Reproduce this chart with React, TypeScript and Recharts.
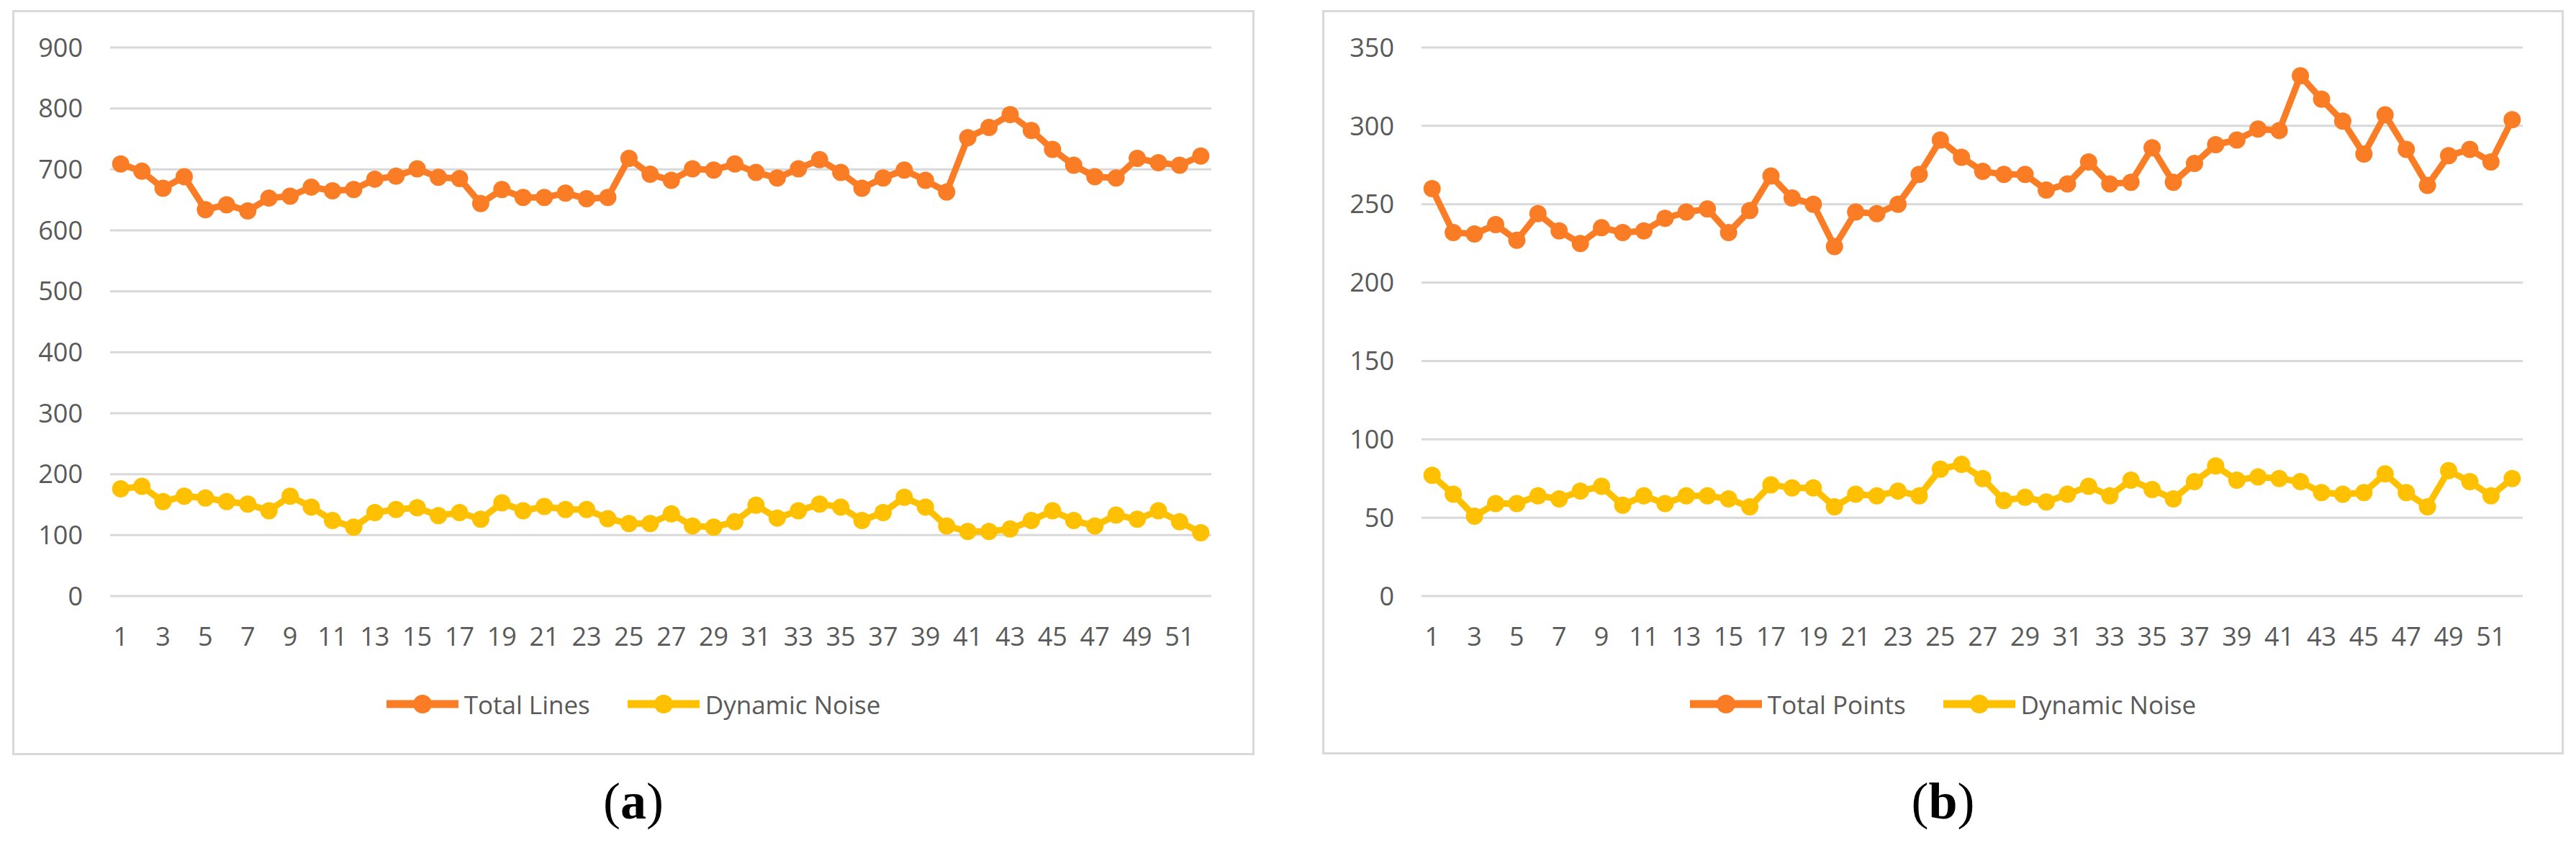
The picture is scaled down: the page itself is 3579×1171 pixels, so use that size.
// Two Excel-style weekly line charts side by side: (a) lines, (b) points.
// Frame + plot box sizes (3579x1171).

import { CartesianGrid, Legend, Line, LineChart, XAxis, YAxis } from 'recharts'

const weeks = Array.from({ length: 52 }, (_, i) => String(i + 1))

const totalLines = [
  709, 697, 669, 688, 634, 642, 632, 653, 656, 671, 665, 667, 684, 689, 701, 687, 685, 644, 667, 654,
  654, 661, 652, 654, 718, 692, 682, 701, 699, 709, 695, 686, 701, 716, 695, 669, 686, 699, 682, 663,
  752, 769, 790, 764, 733, 707, 688, 686, 718, 711, 707, 722,
]
const noiseLines = [
  176, 180, 155, 164, 161, 155, 151, 140, 164, 146, 124, 113, 137, 142, 145, 132, 137, 126, 153, 140,
  147, 142, 142, 127, 119, 119, 135, 115, 113, 122, 149, 128, 140, 151, 146, 124, 137, 162, 146, 115,
  106, 106, 110, 124, 140, 124, 115, 133, 126, 140, 122, 104,
]
const totalPoints = [
  260, 232, 231, 237, 227, 244, 233, 225, 235, 232, 233, 241, 245, 247, 232, 246, 268, 254, 250, 223,
  245, 244, 250, 269, 291, 280, 271, 269, 269, 259, 263, 277, 263, 264, 286, 264, 276, 288, 291, 298,
  297, 332, 317, 303, 282, 307, 285, 262, 281, 285, 277, 304,
]
const noisePoints = [
  77, 65, 51, 59, 59, 64, 62, 67, 70, 58, 64, 59, 64, 64, 62, 57, 71, 69, 69, 57,
  65, 64, 67, 64, 81, 84, 75, 61, 63, 60, 65, 70, 64, 74, 68, 62, 73, 83, 74, 76,
  75, 73, 66, 65, 66, 78, 66, 57, 80, 73, 64, 75,
]

const linesTicks = [0, 100, 200, 300, 400, 500, 600, 700, 800, 900]
const pointsTicks = [0, 50, 100, 150, 200, 250, 300, 350]

// legend keeps series order (recharts sorts by name otherwise)
const seriesOrder = ['total', 'noise']

const ORANGE = '#FA7D26'
const YELLOW = '#FFC000'
const GRID = '#D9D9D9'
const TEXT = '#595959'
const FONT = "'Open Sans', sans-serif"

const linesData = weeks.map((week, i) => ({ week, total: totalLines[i], noise: noiseLines[i] }))
const pointsData = weeks.map((week, i) => ({ week, total: totalPoints[i], noise: noisePoints[i] }))

// Excel-like legend: thick line with a dot in the middle, grey label.
function renderLegend(props: any) {
  const items = [...(props.payload || [])].sort(
    (a: any, b: any) => seriesOrder.indexOf(a.dataKey) - seriesOrder.indexOf(b.dataKey),
  )
  return (
    <div
      style={{
        display: 'flex',
        justifyContent: 'center',
        alignItems: 'center',
        height: 100,
        gap: 52,
        fontFamily: FONT,
        fontSize: 35,
        color: TEXT,
      }}
    >
      {items.map((entry: any) => (
        <div key={entry.value} style={{ display: 'flex', alignItems: 'center', gap: 8 }}>
          <svg width={100} height={28}>
            <line x1={0} y1={14} x2={100} y2={14} stroke={entry.color} strokeWidth={11} />
            <circle cx={50} cy={14} r={13} fill={entry.color} />
          </svg>
          <span>{entry.value}</span>
        </div>
      ))}
    </div>
  )
}

interface PanelProps {
  data: { week: string; total: number; noise: number }[]
  ticks: number[]
  totalName: string
  left: number
  width: number
  height: number
  marginRight: number
  marginBottom: number
  yWidth: number
  caption: string
}

function Panel({ data, ticks, totalName, left, width, height, marginRight, marginBottom, yWidth, caption }: PanelProps) {
  const tickStyle = { fill: TEXT, fontSize: 36, fontFamily: FONT }
  return (
    <>
      {/* chart frame */}
      <div
        style={{
          position: 'absolute',
          left,
          top: 14,
          width,
          height,
          boxSizing: 'border-box',
          border: `3px solid ${GRID}`,
        }}
      />
      <div style={{ position: 'absolute', left, top: 14, width, height }}>
        <LineChart
          width={width}
          height={height}
          data={data}
          margin={{ top: 52, right: marginRight, bottom: marginBottom, left: 0 }}
        >
          <CartesianGrid stroke={GRID} strokeWidth={3} vertical={false} />
          <XAxis
            dataKey="week"
            interval={1}
            height={100}
            padding={{ left: 14.7, right: 14.7 }}
            axisLine={false}
            tickLine={false}
            tickSize={0}
            tickMargin={43}
            tick={tickStyle}
          />
          <YAxis
            type="number"
            domain={[ticks[0], ticks[ticks.length - 1]]}
            ticks={ticks}
            width={yWidth}
            axisLine={false}
            tickLine={false}
            tickSize={0}
            tickMargin={38}
            tick={tickStyle}
          />
          <Legend
            verticalAlign="bottom"
            content={renderLegend}
            wrapperStyle={{ left: 0, width, height: 100 }}
          />
          <Line
            type="linear"
            dataKey="total"
            name={totalName}
            stroke={ORANGE}
            strokeWidth={9}
            dot={{ r: 12, fill: ORANGE, stroke: ORANGE, strokeWidth: 0 }}
            activeDot={false}
            isAnimationActive={false}
          />
          <Line
            type="linear"
            dataKey="noise"
            name="Dynamic Noise"
            stroke={YELLOW}
            strokeWidth={9}
            dot={{ r: 12, fill: YELLOW, stroke: YELLOW, strokeWidth: 0 }}
            activeDot={false}
            isAnimationActive={false}
          />
        </LineChart>
      </div>
      {/* sub-figure caption, serif like the paper */}
      <div
        style={{
          position: 'absolute',
          left,
          width,
          top: 1077,
          textAlign: 'center',
          fontFamily: "'Liberation Serif', 'Times New Roman', serif",
          fontSize: 72,
          lineHeight: '72px',
          color: '#000',
        }}
      >
        (<b>{caption}</b>)
      </div>
    </>
  )
}

export default function App() {
  return (
    <div style={{ position: 'absolute', left: 0, top: 0, width: 3579, height: 1171, background: '#fff' }}>
      <Panel
        data={linesData}
        ticks={linesTicks}
        totalName="Total Lines"
        left={17}
        width={1726}
        height={1035}
        marginRight={60}
        marginBottom={21}
        yWidth={136}
        caption="a"
      />
      <Panel
        data={pointsData}
        ticks={pointsTicks}
        totalName="Total Points"
        left={1837}
        width={1725}
        height={1034}
        marginRight={57}
        marginBottom={20}
        yWidth={138}
        caption="b"
      />
    </div>
  )
}
